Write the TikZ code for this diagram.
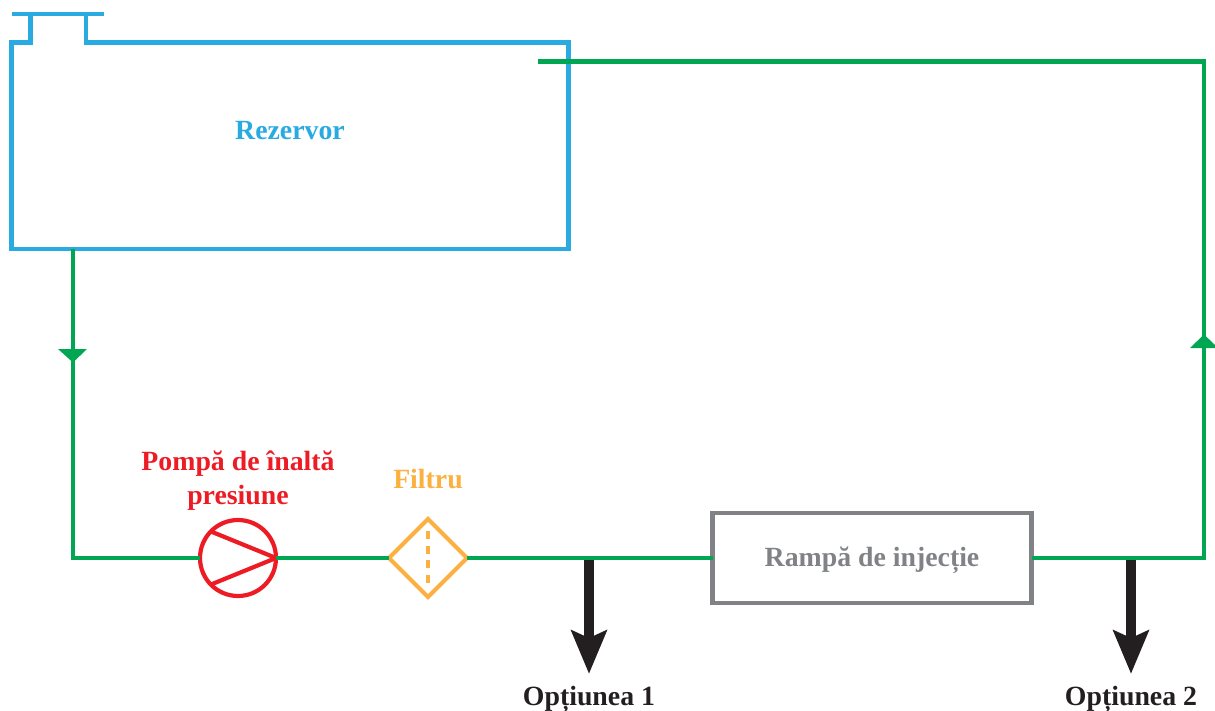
\documentclass[tikz,border=0pt]{standalone}
\usepackage{fontspec}
\setmainfont{Liberation Serif}
\usetikzlibrary{shapes.geometric}
\definecolor{tankblue}{HTML}{29ABE2}
\definecolor{pipegreen}{HTML}{00A651}
\definecolor{pumpred}{HTML}{ED1C24}
\definecolor{filterorange}{HTML}{FBB040}
\definecolor{railgray}{HTML}{808285}
\definecolor{outblack}{HTML}{231F20}
\tikzset{
  lbl/.style={font=\fontsize{27.8}{34}\selectfont\bfseries, inner sep=0pt, align=center},
  tankline/.style={draw=tankblue, line width=4.2pt, line join=miter},
  pipe/.style={draw=pipegreen, line width=4.2pt, line join=miter},
  pipehead/.style={fill=pipegreen},
  pumpbox/.style={circle, draw=pumpred, line width=4.2pt, minimum size=76pt, inner sep=0pt, outer sep=0pt},
  filterbox/.style={diamond, draw=filterorange, line width=4.2pt, minimum size=78pt, inner sep=0pt, outer sep=0pt, aspect=1},
  railbox/.style={rectangle, draw=railgray, line width=4.2pt, minimum width=319pt, minimum height=90pt, inner sep=0pt, outer sep=0pt},
  outshaft/.style={draw=outblack, line width=10.5pt},
  outhead/.style={fill=outblack}
}
\begin{document}
\begin{tikzpicture}[x=1pt,y=-1pt]
\useasboundingbox (0,0) rectangle (1215,711);
% tank
\draw[tankline] (30.5,14) -- (30.5,42.5) -- (11.5,42.5) -- (11.5,249) -- (568.5,249) -- (568.5,42.5) -- (86,42.5) -- (86,14);
\draw[tankline] (11.7,14) -- (104,14);
\node[lbl, text=tankblue] (tank) at (290,131) {Rezervor};
% devices
\node[pumpbox] (pump) at (238,558) {};
\node[filterbox] (filter) at (428,558) {};
\node[railbox] (rail) at (872,558) {};
\node[lbl, text=railgray] (raillabel) at (872,560) {Rampă de injecție};
\node[lbl, text=pumpred] (pumplabel) at (238,481) {Pompă de înaltă\\presiune};
\node[lbl, text=filterorange] (filterlabel) at (428,479) {Filtru};
\node[lbl, text=outblack] (opt1) at (589,699.5) {Opțiunea 1};
\node[lbl, text=outblack] (opt2) at (1131,699.5) {Opțiunea 2};
% pump and filter details
\coordinate (pumpa) at (211,531.5);
\coordinate (pumpb) at (211,584.5);
\draw[draw=pumpred, line width=4.2pt, line join=miter] (pumpa) -- (pump.east) -- (pumpb);
\coordinate (filta) at (428,531);
\coordinate (filtb) at (428,585);
\draw[draw=filterorange, line width=4.2pt, dash pattern=on 8pt off 6.5pt] (filta) -- (filtb);
% pipes
\coordinate (tankout) at (73,249);
\coordinate (tankin) at (538,61.5);
\coordinate (corner1) at (73,558);
\coordinate (corner2) at (1204,558);
\coordinate (corner3) at (1204,61.5);
\draw[pipe] (tankout) -- (corner1) -- (pump.west);
\draw[pipe] (pump.east) -- (filter.west);
\draw[pipe] (filter.east) -- (rail.west);
\draw[pipe] (rail.east) -- (corner2) -- (corner3) -- (tankin);
% flow heads
\fill[pipehead] (58,349) -- (87,349) -- (73,362.5) -- cycle;
\fill[pipehead] (1190,348) -- (1204,334.5) -- (1215,345) -- (1215,348) -- cycle;
% outlets
\coordinate (tap1) at (589,560);
\coordinate (tap2) at (1131,560);
\coordinate (end1) at (589,640);
\coordinate (end2) at (1131,640);
\draw[outshaft] (tap1) -- (end1);
\draw[outshaft] (tap2) -- (end2);
\fill[outhead] (570.5,629.5) -- (589,638) -- (607.5,629.5) -- (589,673.5) -- cycle;
\fill[outhead] (1112.5,629.5) -- (1131,638) -- (1149.5,629.5) -- (1131,673.5) -- cycle;
\end{tikzpicture}
\end{document}
